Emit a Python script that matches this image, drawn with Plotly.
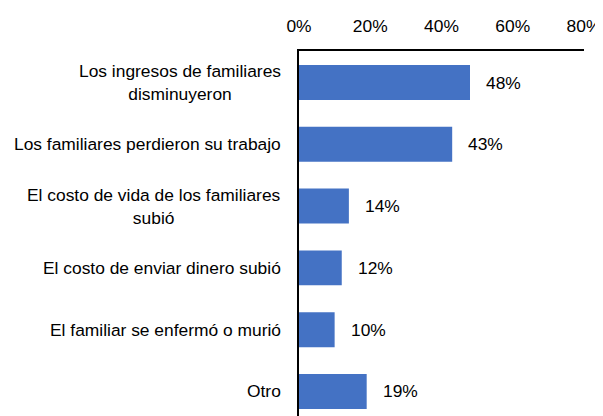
import plotly.graph_objects as go

categories = [
    "Los ingresos de familiares<br>disminuyeron",
    "Los familiares perdieron su trabajo",
    "El costo de vida de los familiares<br>subió",
    "El costo de enviar dinero subió",
    "El familiar se enfermó o murió",
    "Otro",
]
values = [48, 43, 14, 12, 10, 19]
tick_vals = [0, 20, 40, 60, 80]
tick_text = ["0%", "20%", "40%", "60%", "80%"]

FONT = "Liberation Sans, Arial, sans-serif"
BAR = "#4472C4"
TXT = "#000000"
FS = 17.4

idx = list(range(len(categories)))

fig = go.Figure(
    go.Bar(
        x=values,
        y=idx,
        orientation="h",
        marker=dict(color=BAR, line=dict(width=0)),
        width=0.566,
        hoverinfo="skip",
    )
)

annotations = []
for i, (c, v) in enumerate(zip(categories, values)):
    annotations.append(dict(
        x=0, y=i, xref="x", yref="y", text=c, showarrow=False,
        xanchor="right", yanchor="middle", align="center", xshift=-16,
        font=dict(family=FONT, size=FS, color=TXT),
    ))
    annotations.append(dict(
        x=v, y=i, xref="x", yref="y", text=f"{v}%", showarrow=False,
        xanchor="left", yanchor="middle", xshift=14,
        font=dict(family=FONT, size=FS, color=TXT),
    ))

# the page body has an 8px default margin, so the figure is 8px smaller
fig.update_layout(
    width=595, height=408,
    margin=dict(l=291, r=19, t=43, b=0, pad=0),
    paper_bgcolor="white", plot_bgcolor="white",
    showlegend=False,
    annotations=annotations,
    font=dict(family=FONT, size=FS, color=TXT),
    xaxis=dict(
        side="top", range=[0, 80], tickvals=tick_vals, ticktext=tick_text,
        showgrid=False, zeroline=False, showline=True, linecolor="black",
        linewidth=1.5, ticks="", ticklabelstandoff=10,
        tickfont=dict(family=FONT, size=FS, color=TXT),
    ),
    yaxis=dict(
        range=[5.397, -0.51], showticklabels=False, showgrid=False,
        zeroline=False, showline=True, linecolor="black", linewidth=1.5,
        ticks="",
    ),
)

fig.write_html("out.html")
